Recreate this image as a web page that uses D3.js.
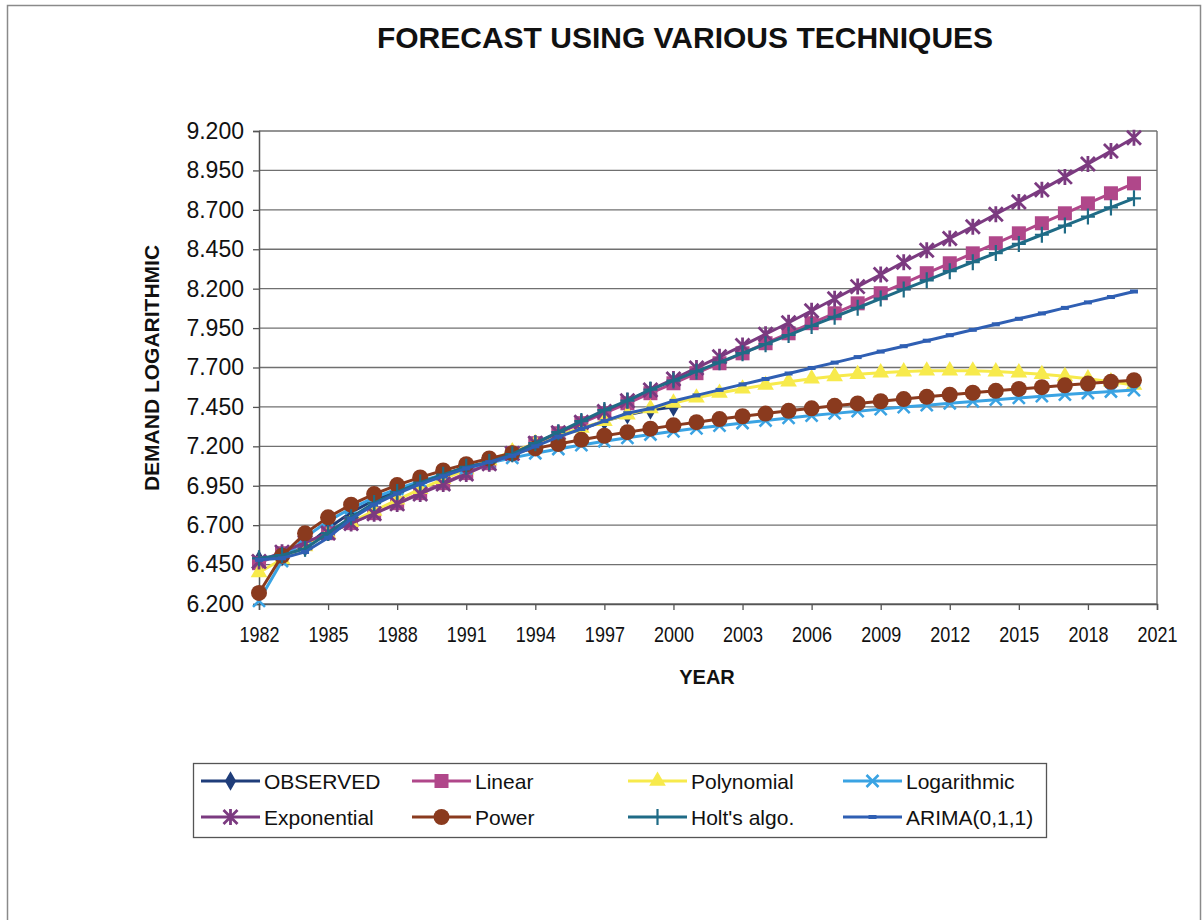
<!DOCTYPE html>
<html>
<head>
<meta charset="utf-8">
<script src="https://cdn.jsdelivr.net/npm/d3@7"></script>
<style>
  html, body { margin: 0; padding: 0; background: #fff; }
  svg { display: block; font-family: "Liberation Sans", Arial, sans-serif; }
</style>
</head>
<body>
<svg id="chart" width="1203" height="920"></svg>
<script>
// Years on the horizontal axis (one point per year)
const years = [1982, 1983, 1984, 1985, 1986, 1987, 1988, 1989, 1990, 1991,
  1992, 1993, 1994, 1995, 1996, 1997, 1998, 1999, 2000, 2001,
  2002, 2003, 2004, 2005, 2006, 2007, 2008, 2009, 2010, 2011,
  2012, 2013, 2014, 2015, 2016, 2017, 2018, 2019, 2020];

// Observed demand (log), 1982-2000
const observed = [6.48, 6.50, 6.56, 6.68, 6.78, 6.86, 6.92, 6.97, 7.02, 7.07,
  7.10, 7.16, 7.21, 7.27, 7.31, 7.36, 7.40, 7.43, 7.45];

const linear = [6.459, 6.522, 6.586, 6.649, 6.713, 6.776, 6.839, 6.903, 6.966, 7.030,
  7.093, 7.156, 7.220, 7.283, 7.347, 7.410, 7.473, 7.537, 7.600, 7.664,
  7.727, 7.790, 7.854, 7.917, 7.981, 8.044, 8.107, 8.171, 8.234, 8.298,
  8.361, 8.424, 8.488, 8.551, 8.615, 8.678, 8.741, 8.805, 8.868];

const polynomial = [6.400, 6.484, 6.565, 6.643, 6.719, 6.791, 6.861, 6.928, 6.992, 7.053,
  7.111, 7.167, 7.219, 7.269, 7.316, 7.360, 7.401, 7.440, 7.475, 7.508,
  7.538, 7.565, 7.589, 7.610, 7.629, 7.644, 7.657, 7.667, 7.674, 7.679,
  7.680, 7.679, 7.674, 7.667, 7.657, 7.644, 7.629, 7.610, 7.589];

const logarithmic = [6.220, 6.473, 6.621, 6.726, 6.807, 6.874, 6.930, 6.979, 7.022, 7.061,
  7.095, 7.127, 7.156, 7.183, 7.208, 7.232, 7.254, 7.275, 7.295, 7.314,
  7.331, 7.348, 7.364, 7.380, 7.395, 7.409, 7.423, 7.436, 7.449, 7.461,
  7.473, 7.485, 7.496, 7.507, 7.518, 7.528, 7.538, 7.548, 7.557];

const exponential = [6.470, 6.529, 6.589, 6.650, 6.711, 6.773, 6.835, 6.898, 6.961, 7.025,
  7.089, 7.154, 7.220, 7.286, 7.353, 7.421, 7.489, 7.558, 7.627, 7.697,
  7.768, 7.839, 7.911, 7.984, 8.060, 8.136, 8.213, 8.290, 8.368, 8.443,
  8.518, 8.593, 8.672, 8.750, 8.828, 8.909, 8.991, 9.073, 9.157];

const power = [6.270, 6.506, 6.648, 6.750, 6.830, 6.897, 6.954, 7.003, 7.047, 7.087,
  7.123, 7.156, 7.187, 7.215, 7.242, 7.267, 7.290, 7.312, 7.333, 7.353,
  7.373, 7.391, 7.408, 7.425, 7.441, 7.457, 7.472, 7.486, 7.500, 7.514,
  7.527, 7.540, 7.552, 7.564, 7.575, 7.587, 7.598, 7.609, 7.619];

const holt = [6.49, 6.51, 6.55, 6.65, 6.75, 6.84, 6.91, 6.97, 7.02, 7.07,
  7.10, 7.15, 7.22, 7.29, 7.36, 7.43, 7.49, 7.56, 7.617, 7.675,
  7.733, 7.791, 7.848, 7.906, 7.964, 8.022, 8.079, 8.137, 8.195, 8.253,
  8.311, 8.368, 8.426, 8.484, 8.542, 8.600, 8.657, 8.715, 8.773];

const arima = [6.48, 6.49, 6.53, 6.62, 6.74, 6.83, 6.90, 6.96, 7.01, 7.06,
  7.10, 7.14, 7.20, 7.26, 7.31, 7.36, 7.41, 7.44, 7.488, 7.523,
  7.558, 7.593, 7.627, 7.662, 7.697, 7.731, 7.766, 7.801, 7.835, 7.870,
  7.905, 7.939, 7.974, 8.009, 8.043, 8.078, 8.113, 8.147, 8.182];

// Axis ticks
const yTicks = [6.2, 6.45, 6.7, 6.95, 7.2, 7.45, 7.7, 7.95, 8.2, 8.45, 8.7, 8.95, 9.2];
const xTicks = [1982, 1985, 1988, 1991, 1994, 1997, 2000, 2003, 2006, 2009, 2012, 2015, 2018, 2021];

const seriesNames = ["OBSERVED", "Linear", "Polynomial", "Logarithmic",
  "Exponential", "Power", "Holt's algo.", "ARIMA(0,1,1)"];
const seriesValues = [observed, linear, polynomial, logarithmic, exponential, power, holt, arima];

const styles = {
  "OBSERVED":     { color: "#1f3d7a", marker: "diamond" },
  "Linear":       { color: "#b0478a", marker: "square" },
  "Polynomial":   { color: "#f7ea4c", marker: "triangle" },
  "Logarithmic":  { color: "#3aa3e3", marker: "x" },
  "Exponential":  { color: "#7b3a80", marker: "star" },
  "Power":        { color: "#8a3a1e", marker: "circle" },
  "Holt's algo.": { color: "#1f6b86", marker: "plus" },
  "ARIMA(0,1,1)": { color: "#2f5fb3", marker: "dash" }
};

const svg = d3.select("#chart");

// Outer chart frame
svg.append("rect")
  .attr("x", 7.5).attr("y", 5.5).attr("width", 1193).attr("height", 940)
  .attr("fill", "#fff").attr("stroke", "#8a8a8a").attr("stroke-width", 1.5);

const plot = { left: 259, right: 1157, top: 131, bottom: 604 };

const x = d3.scaleLinear().domain([1982, 2021]).range([plot.left, plot.right]);
const y = d3.scaleLinear().domain([6.2, 9.2]).range([plot.bottom, plot.top]);

// Title
svg.append("text")
  .attr("x", 685).attr("y", 48)
  .attr("text-anchor", "middle")
  .attr("font-size", 30).attr("font-weight", "bold").attr("fill", "#111")
  .text("FORECAST USING VARIOUS TECHNIQUES");

// Horizontal gridlines
svg.append("g")
  .selectAll("line")
  .data(yTicks)
  .join("line")
  .attr("x1", plot.left).attr("x2", plot.right)
  .attr("y1", d => y(d)).attr("y2", d => y(d))
  .attr("stroke", "#707070").attr("stroke-width", 1.4);

// Right edge of the plot area
svg.append("line")
  .attr("x1", plot.right).attr("x2", plot.right)
  .attr("y1", plot.top).attr("y2", plot.bottom)
  .attr("stroke", "#707070").attr("stroke-width", 1.4);

// Y axis
const yAxis = svg.append("g")
  .attr("transform", `translate(${plot.left},0)`)
  .call(d3.axisLeft(y).tickValues(yTicks).tickFormat(d3.format(".3f")).tickSize(6).tickPadding(9));
yAxis.select(".domain").attr("stroke", "#555").attr("stroke-width", 1.5);
yAxis.selectAll(".tick line").attr("stroke", "#555").attr("stroke-width", 1.3);
yAxis.selectAll(".tick text")
  .attr("font-size", 23).attr("fill", "#111")
  .attr("font-family", "'Liberation Sans', Arial, sans-serif");

// X axis
const xAxis = svg.append("g")
  .attr("transform", `translate(0,${plot.bottom})`)
  .call(d3.axisBottom(x).tickValues(xTicks).tickFormat(d3.format("d")).tickSize(6).tickPadding(10));
xAxis.select(".domain").attr("stroke", "#555").attr("stroke-width", 1.5);
xAxis.selectAll(".tick line").attr("stroke", "#555").attr("stroke-width", 1.3);
xAxis.selectAll(".tick text")
  .attr("font-size", 20).attr("fill", "#111")
  .attr("font-family", "'Liberation Sans', Arial, sans-serif")
  .attr("transform", "scale(0.9,1.08)")
  .attr("dy", "0.95em");

// Axis titles
svg.append("text")
  .attr("x", 707).attr("y", 684)
  .attr("text-anchor", "middle")
  .attr("font-size", 20).attr("font-weight", "bold").attr("fill", "#111")
  .text("YEAR");

svg.append("text")
  .attr("transform", "translate(159,368) rotate(-90)")
  .attr("text-anchor", "middle")
  .attr("font-size", 21).attr("font-weight", "bold").attr("fill", "#111")
  .text("DEMAND LOGARITHMIC");

// Marker drawing helper
function drawMarker(g, type, color, cx, cy) {
  switch (type) {
    case "diamond":
      g.append("path").attr("d", d3.symbol(d3.symbolDiamond, 110)())
        .attr("transform", `translate(${cx},${cy})`).attr("fill", color);
      break;
    case "square":
      g.append("rect").attr("x", cx - 7).attr("y", cy - 7).attr("width", 14).attr("height", 14)
        .attr("fill", color);
      break;
    case "triangle":
      g.append("path").attr("d", d3.symbol(d3.symbolTriangle, 120)())
        .attr("transform", `translate(${cx},${cy})`).attr("fill", color);
      break;
    case "circle":
      g.append("circle").attr("cx", cx).attr("cy", cy).attr("r", 8).attr("fill", color);
      break;
    case "x":
      g.append("path")
        .attr("d", `M${cx - 6},${cy - 6}L${cx + 6},${cy + 6}M${cx - 6},${cy + 6}L${cx + 6},${cy - 6}`)
        .attr("stroke", color).attr("stroke-width", 2.6).attr("fill", "none");
      break;
    case "star":
      g.append("path")
        .attr("d", `M${cx - 7},${cy - 7}L${cx + 7},${cy + 7}M${cx - 7},${cy + 7}L${cx + 7},${cy - 7}M${cx},${cy - 8}L${cx},${cy + 8}`)
        .attr("stroke", color).attr("stroke-width", 2.8).attr("fill", "none");
      break;
    case "plus":
      g.append("path")
        .attr("d", `M${cx - 7},${cy}L${cx + 7},${cy}M${cx},${cy - 8}L${cx},${cy + 8}`)
        .attr("stroke", color).attr("stroke-width", 2.2).attr("fill", "none");
      break;
    case "dash":
      g.append("rect").attr("x", cx - 4).attr("y", cy - 2).attr("width", 8).attr("height", 4)
        .attr("fill", color);
      break;
  }
}

// Series lines and markers
const line = d3.line().x(d => x(d.year)).y(d => y(d.value));
const seriesLayer = svg.append("g");

seriesNames.forEach((name, i) => {
  const st = styles[name];
  const pts = seriesValues[i].map((v, j) => ({ year: years[j], value: v }));
  const g = seriesLayer.append("g");
  g.append("path")
    .datum(pts)
    .attr("d", line)
    .attr("fill", "none")
    .attr("stroke", st.color)
    .attr("stroke-width", 3);
  pts.forEach(p => drawMarker(g, st.marker, st.color, x(p.year), y(p.value)));
});

// Legend
const legend = svg.append("g");
legend.append("rect")
  .attr("x", 193.5).attr("y", 763.5).attr("width", 853).attr("height", 74)
  .attr("fill", "#fff").attr("stroke", "#555").attr("stroke-width", 1.3);

const colX = [201, 412, 628, 843];
const rowY = [781, 817];
seriesNames.forEach((name, i) => {
  const st = styles[name];
  const lx = colX[i % 4];
  const ly = rowY[Math.floor(i / 4)];
  legend.append("line")
    .attr("x1", lx).attr("x2", lx + 59).attr("y1", ly).attr("y2", ly)
    .attr("stroke", st.color).attr("stroke-width", 3);
  drawMarker(legend, st.marker, st.color, lx + 29.5, ly);
  legend.append("text")
    .attr("x", lx + 63).attr("y", ly)
    .attr("dy", "0.36em")
    .attr("font-size", 21).attr("fill", "#111")
    .text(name);
});
</script>
</body>
</html>
